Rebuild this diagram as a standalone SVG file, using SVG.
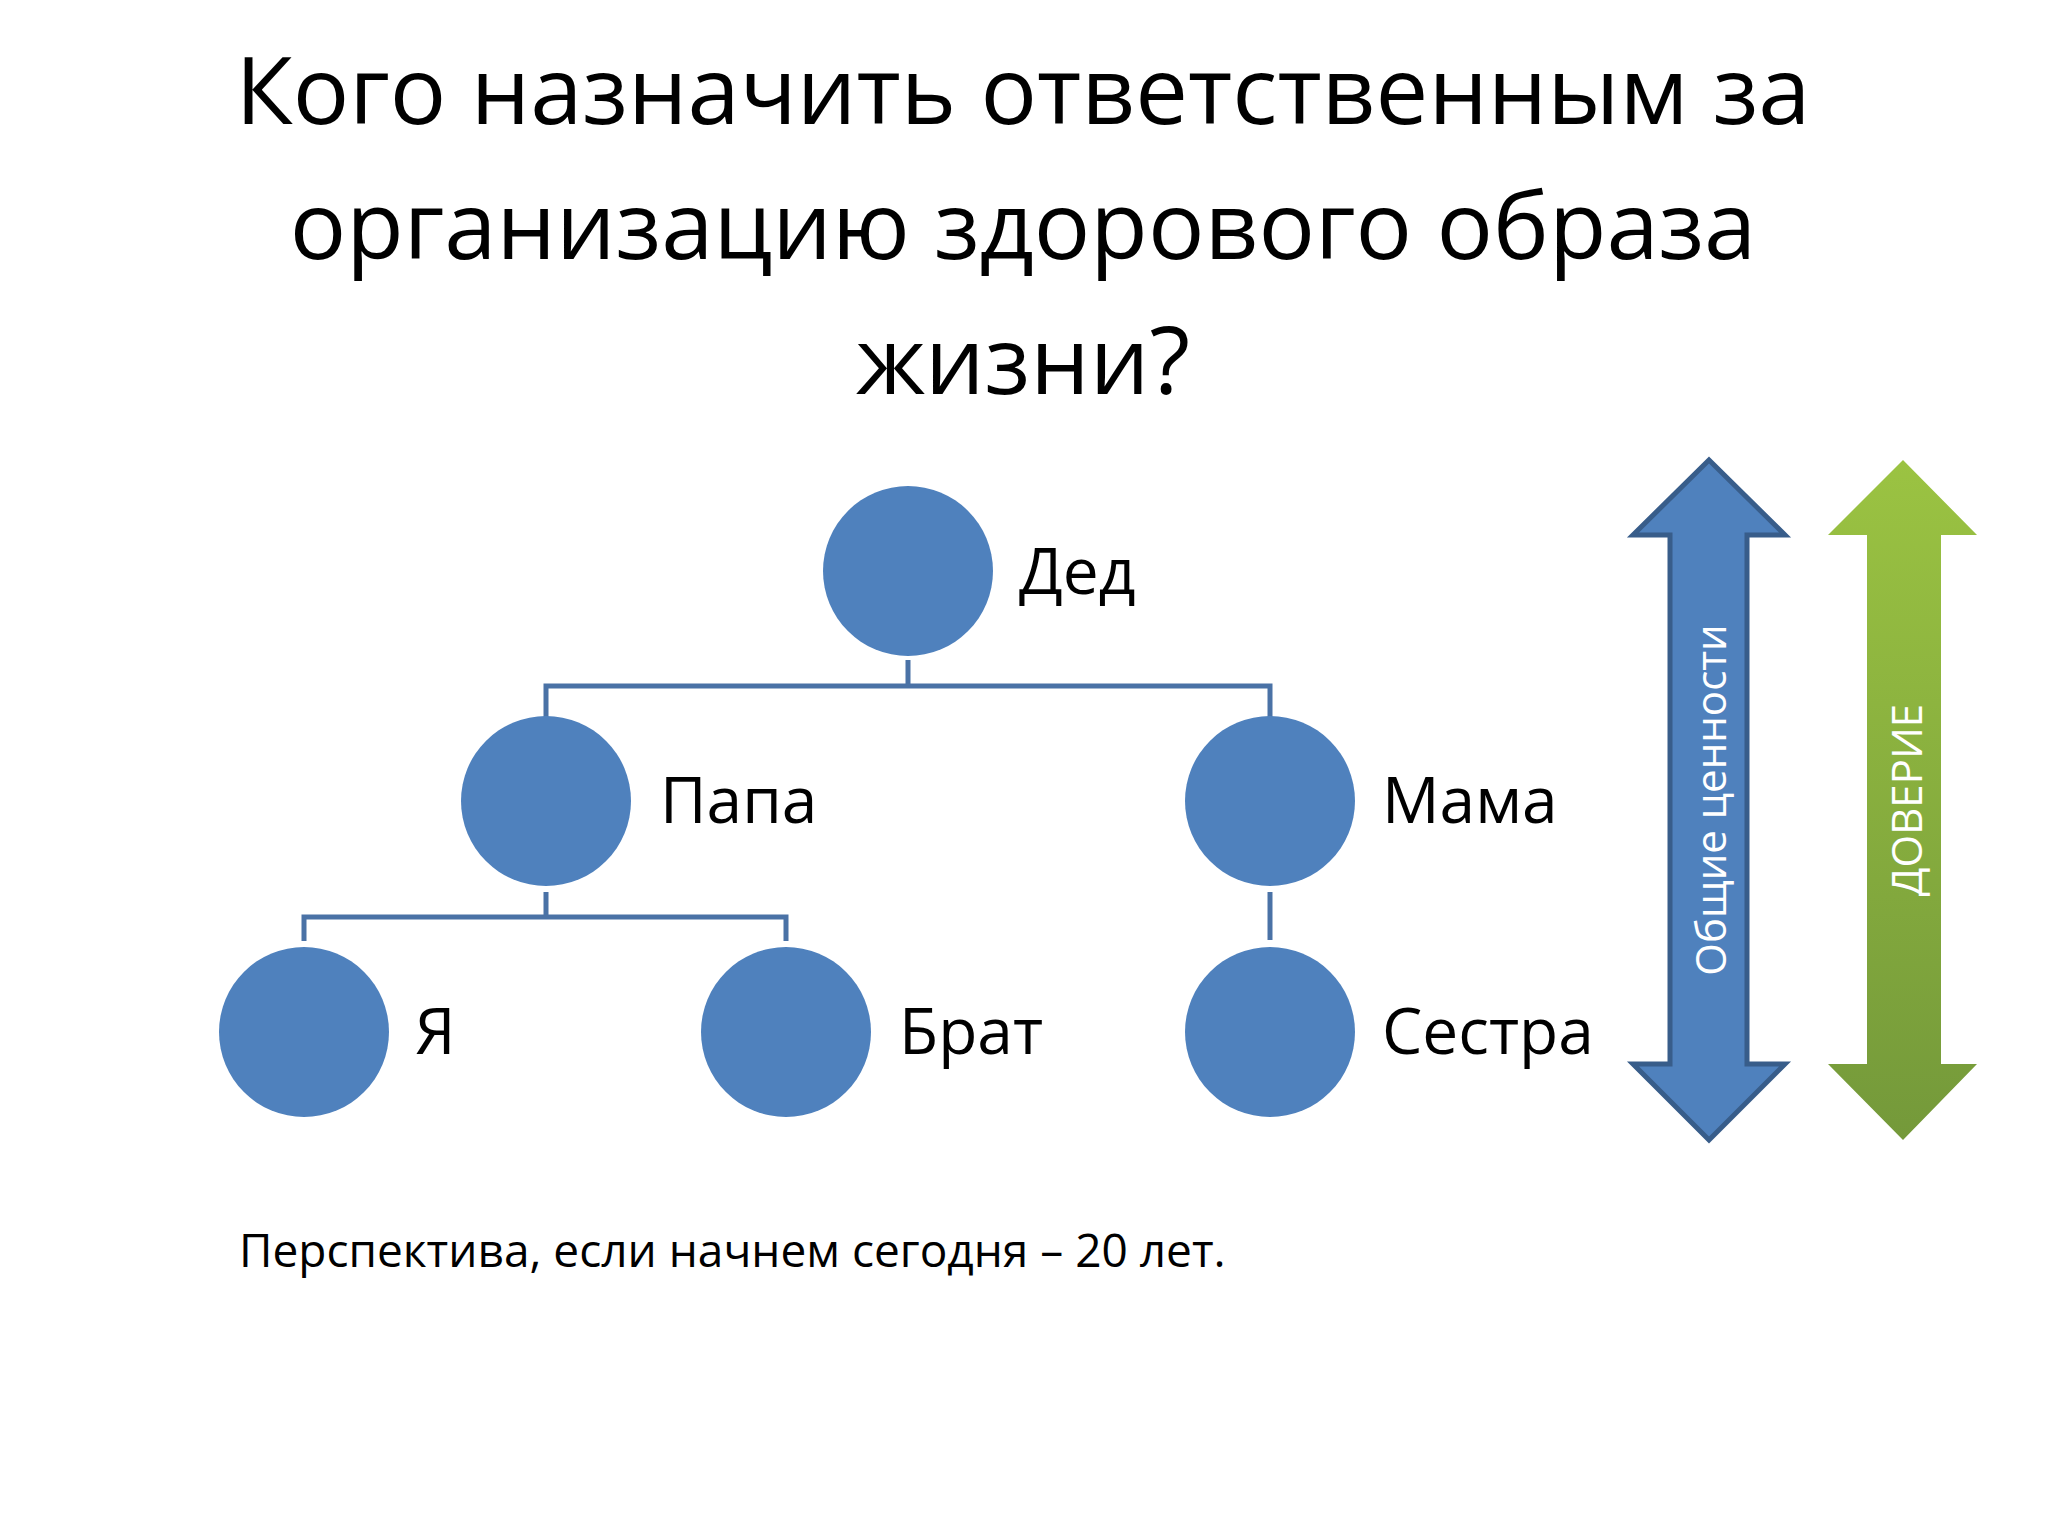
<svg xmlns="http://www.w3.org/2000/svg" width="2048" height="1536" viewBox="0 0 2048 1536">
<defs>
<style>
.t{font-family:"Open Sans","Noto Sans",sans-serif;fill:#000}
.n{fill:#4f81bd}
.lbl{font-family:"Open Sans","Noto Sans",sans-serif;font-size:64px;fill:#000}
.c{fill:none;stroke:#4a72a6;stroke-width:5}
</style>
<linearGradient id="g" x1="0" y1="0" x2="0" y2="1"><stop offset="0" stop-color="#9bc342"/><stop offset="1" stop-color="#74993a"/></linearGradient>
</defs>
<rect width="2048" height="1536" fill="#fff"/>
<g id="title" class="t" font-size="94" text-anchor="middle">
<text x="1023" y="124">Кого назначить ответственным за</text>
<text x="1023" y="259">организацию здорового образа</text>
<text x="1023" y="394">жизни?</text>
</g>
<g id="connectors">
<path class="c" d="M908 660V686M546 718V686H1270V718"/>
<path class="c" d="M546 892V917M304 941V917H786V941"/>
<path class="c" d="M1270 892V940"/>
</g>
<g id="ded"><circle class="n" cx="908" cy="571" r="85"/><text class="lbl" x="1019" y="594">Дед</text></g>
<g id="papa"><circle class="n" cx="546" cy="801" r="85"/><text class="lbl" x="660" y="823">Папа</text></g>
<g id="mama"><circle class="n" cx="1270" cy="801" r="85"/><text class="lbl" x="1382" y="823">Мама</text></g>
<g id="ya"><circle class="n" cx="304" cy="1032" r="85"/><text class="lbl" x="415" y="1054">Я</text></g>
<g id="brat"><circle class="n" cx="786" cy="1032" r="85"/><text class="lbl" x="899" y="1054">Брат</text></g>
<g id="sestra"><circle class="n" cx="1270" cy="1032" r="85"/><text class="lbl" x="1382" y="1054">Сестра</text></g>
<g id="arrow-blue">
<polygon points="1709,460 1785,535 1747,535 1747,1064 1785,1064 1709,1140 1633,1064 1670,1064 1670,535 1633,535" fill="#4f81bd" stroke="#385d8a" stroke-width="5"/>
<text class="t" font-size="42" fill="#fff" style="fill:#fff" text-anchor="middle" transform="translate(1726,800) rotate(-90)">Общие ценности</text>
</g>
<g id="arrow-green">
<polygon points="1903,460 1977,535 1941,535 1941,1064 1977,1064 1903,1140 1828,1064 1867,1064 1867,535 1828,535" fill="url(#g)"/>
<text class="t" font-size="42" style="fill:#fff" text-anchor="middle" transform="translate(1922,800) rotate(-90)">ДОВЕРИЕ</text>
</g>
<text class="t" font-size="46" x="239" y="1267">Перспектива, если начнем сегодня – 20 лет.</text>
</svg>
